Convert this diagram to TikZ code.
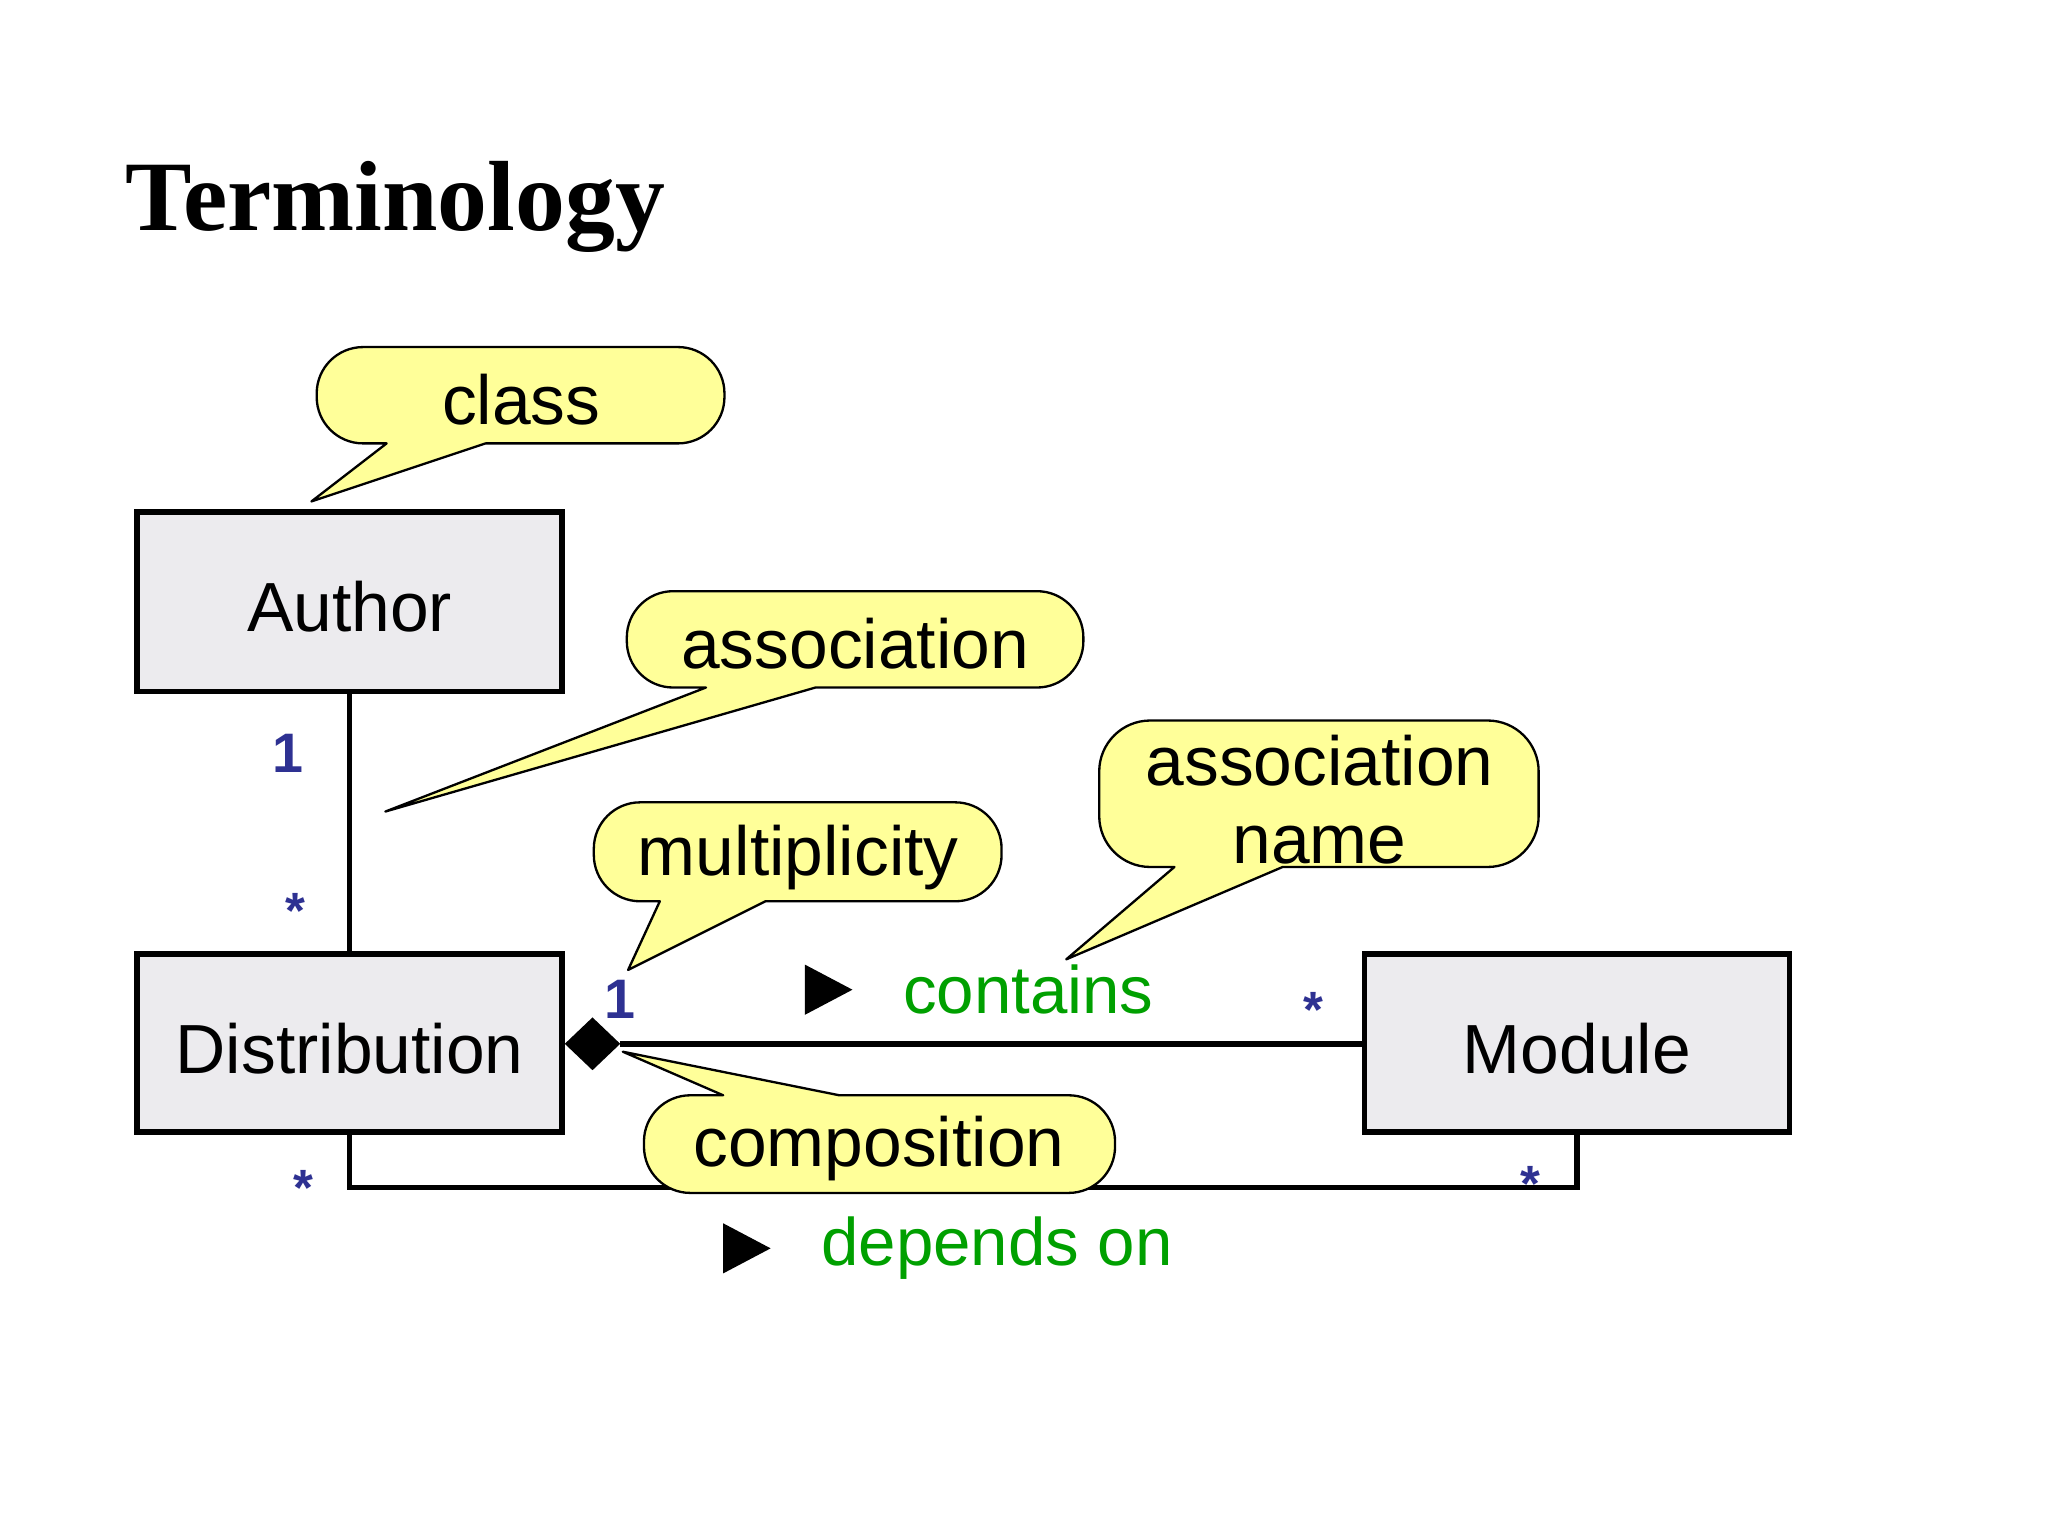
\documentclass[tikz,border=0pt]{standalone}
\usepackage{fontspec}
\setmainfont{Liberation Sans}
\newfontfamily\titlefont{Liberation Serif}
\begin{document}
\begin{tikzpicture}[x=0.02cm,y=-0.02cm,
  cls/.style={draw=black,line width=2.4pt,fill=boxgray},
  txt/.style={font=\fontsize{30}{36}\selectfont,inner sep=0pt},
  call/.style={draw=black,line width=1pt,fill=callyellow,line join=round},
  mult/.style={text=multblue,font=\fontsize{24}{28}\selectfont\bfseries,inner sep=0pt},
  star/.style={text=multblue,font=\fontsize{22}{26}\selectfont\bfseries,inner sep=0pt},
  grn/.style={text=grn,font=\fontsize{29}{34}\selectfont,inner sep=0pt,anchor=west},
  conn/.style={draw=black,line width=2.4pt}]
\definecolor{boxgray}{HTML}{ECEBEE}
\definecolor{callyellow}{HTML}{FFFF99}
\definecolor{multblue}{HTML}{2E3192}
\definecolor{grn}{HTML}{00A000}
\useasboundingbox[fill=white] (0,0) rectangle (1552,1164);
\node[font=\titlefont\fontsize{43}{50}\selectfont\bfseries,anchor=base west,inner sep=0pt] (title) at (95,175) {Terminology};
% connectors
\draw[conn] (265,858) -- (265,900) -- (1195,900) -- (1195,858);
\draw[cls] (104,388) rectangle (426,524);
\draw[cls] (104,723) rectangle (426,858);
\draw[cls] (1034,723) rectangle (1356,858);
\node[txt] (author) at (265,460) {Author};
\node[txt] (dist) at (265,795) {Distribution};
\node[txt] (module) at (1195,795) {Module};
\coordinate (autb) at (265,524);
\coordinate (distt) at (265,723);
\draw[conn] (autb) -- (distt);
\coordinate (dia) at (470,791);
\coordinate (modl) at (1034,791);
\fill (428,791) -- (449,771) -- (470,791) -- (449,811) -- cycle;
\draw[conn] (dia) -- (modl);
% multiplicities
\node[mult] (m1) at (218,571) {1};
\node[star] (s1) at (224,690) {*};
\node[mult] (m2) at (470,757) {1};
\node[star] (s2) at (995,765) {*};
\node[star] (s3) at (230,900) {*};
\node[star] (s4) at (1160,897) {*};
% names
\fill[grn] (610,731) -- (646,750) -- (610,769) -- cycle;
\node[grn] (contains) at (684,750) {contains};
\fill[grn] (548,927) -- (584,946) -- (548,965) -- cycle;
\node[grn] (depends) at (622,946) {depends on};
% callouts
\draw[call] (293,336) -- (236,380) -- (368,336) [rounded corners=20] -- (549,336) -- (549,263) -- (240,263) -- (240,336) [sharp corners] -- cycle;
\node[txt] (c1) at (395,303) {class};
\draw[call] (535,521) -- (292,615) -- (618,521) [rounded corners=20] -- (821,521) -- (821,448) -- (475,448) -- (475,521) [sharp corners] -- cycle;
\node[txt] (c2) at (648,488) {association};
\draw[call] (500,683) -- (476,735) -- (580,683) [rounded corners=20] -- (759,683) -- (759,608) -- (450,608) -- (450,683) [sharp corners] -- cycle;
\node[txt] (c3) at (605,650) {multiplicity};
\draw[call] (890,657) -- (808,727) -- (972,657) [rounded corners=22] -- (1166,657) -- (1166,546) -- (833,546) -- (833,657) [sharp corners] -- cycle;
\node[txt,align=center] (c4) at (1000,606) {association\\[-2pt]name};
\draw[call] (548,830) -- (472,797) -- (636,830) [rounded corners=20] -- (845,830) -- (845,904) -- (488,904) -- (488,830) [sharp corners] -- cycle;
\node[txt] (c5) at (666,870) {composition};
\end{tikzpicture}
\end{document}
